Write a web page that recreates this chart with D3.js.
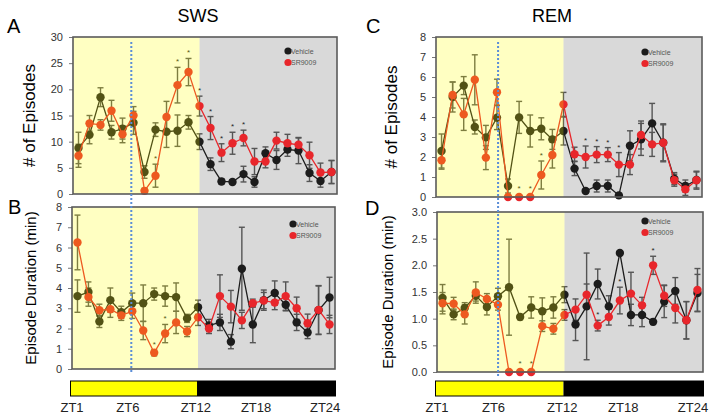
<!DOCTYPE html>
<html>
<head>
<meta charset="utf-8">
<script src="https://cdn.jsdelivr.net/npm/d3@7"></script>
<style>
body{margin:0;background:#fff}
text{font-family:Arial,"Liberation Sans",sans-serif}
</style>
</head>
<body>
<div id="chart"></div>
<script>
// hourly values, ZT1..ZT24
var hours = d3.range(1,25)

var swsCountVeh = [8.8,11.3,18.5,11.8,12.5,13.6,4.2,12.3,11.9,12.1,13.7,10.0,5.7,2.4,2.3,3.8,2.3,7.8,6.5,8.5,8.3,4.0,2.5,4.2]
var swsCountVehErr = [3.0,1.7,1.8,1.3,2.0,2.2,1.2,1.3,3.0,3.0,1.3,1.5,1.2,0.5,0.4,1.5,1.0,1.2,1.8,1.3,2.5,1.6,1.2,2.2]
var swsCountSR = [7.3,13.5,13.2,15.9,11.4,15.0,0.6,3.5,14.7,20.8,23.3,16.8,12.6,7.9,9.7,10.7,6.2,6.2,10.2,9.7,9.4,7.4,4.1,4.2]
var swsCountSRErr = [2.2,1.5,1.0,2.0,1.6,1.7,0.5,2.2,3.0,3.4,2.6,1.9,2.2,1.7,2.1,1.5,2.5,1.2,1.6,1.7,1.3,2.5,1.8,2.2]
var swsCountStars = [7,9,10,11,12,13,14,15]

var swsDurVeh = [3.6,3.8,2.35,3.4,2.8,3.25,3.25,3.7,3.6,3.55,2.5,3.05,2.15,2.3,1.35,4.95,2.2,3.4,3.75,3.17,2.3,1.8,2.9,3.53]
var swsDurVehErr = [0.8,0.5,0.3,0.6,0.3,0.5,0.9,0.3,0.5,0.7,0.2,0.35,0.3,0.4,0.35,2.05,0.9,0.5,0.6,0.3,0.4,0.3,1.2,1.0]
var swsDurSR = [6.25,3.55,2.9,2.95,2.65,2.85,1.9,0.8,1.75,2.3,1.85,2.55,2.0,3.6,3.08,2.4,3.25,3.38,3.28,3.6,3.0,2.26,2.92,2.2]
var swsDurSRErr = [1.35,0.45,0.3,0.4,0.25,0.35,0.45,0.15,0.45,0.55,0.25,0.4,0.25,1.05,0.8,0.4,0.2,0.4,0.35,0.7,0.55,0.45,1.2,0.45]
var swsDurStars = [7,8]

var remCountVeh = [2.3,5.0,5.57,3.5,2.98,3.97,0.55,3.98,3.3,3.41,2.88,3.3,1.42,0.3,0.55,0.55,0.08,2.56,2.88,3.68,2.71,0.92,0.55,0.85]
var remCountVehErr = [0.85,0.75,0.45,0.35,0.6,0.6,0.35,0.8,0.8,0.55,0.5,0.7,0.35,0.1,0.3,0.3,0.1,0.75,0.8,1.0,0.95,0.3,0.3,0.4]
var remCountSR = [1.84,5.1,4.13,5.86,1.97,5.24,0,0,0,1.1,2.1,4.63,2.14,2.0,2.12,2.12,1.62,1.62,3.1,2.63,2.71,0.84,0.38,0.84]
var remCountSRErr = [0.45,0.65,0.8,1.25,0.6,0.65,0,0,0,0.7,0.65,0.6,0.35,0.55,0.4,0.35,0.6,0.5,0.7,0.6,0.9,0.3,0.3,0.45]
var remCountStars = [7,8,9,13,14,15,16]

var remDurVeh = [1.39,1.08,1.2,1.43,1.22,1.42,1.59,1.03,1.21,1.14,1.21,1.45,0.89,1.23,1.65,1.23,2.23,1.07,1.07,0.94,1.32,1.52,0.97,1.48]
var remDurVehErr = [0.25,0.1,0.1,0.1,0.15,0.15,0.9,0.05,0.2,0.25,0.2,0.15,0.3,1.0,0.28,0.2,0,0.2,0.22,0.05,0.3,0.25,0.35,0.35]
var remDurSR = [1.29,1.28,1.08,1.49,1.37,1.26,0,0,0,0.86,0.81,1.07,1.17,1.45,0.87,1.03,1.34,1.47,1.25,2.0,1.43,1.2,0.97,1.54]
var remDurSRErr = [0.2,0.12,0.18,0.2,0.1,0.1,0,0,0,0.1,0.1,0.1,0.2,0.2,0.1,0.15,0.25,0.4,0.15,0.17,0.2,0.28,0.35,0.4]
var remDurStars = [7,8,14,16,19]

var ztLabels = ["ZT1","ZT6","ZT12","ZT18","ZT24"]
var ztPos = [-0.5,4.6,10.8,16.3,22.6]
var seriesNames = ["Vehicle","SR9009"]

var lightEnd = 11      // index where the light period ends
var w = 714, h = 418

var svg = d3.select("#chart").append("svg").attr("width",w).attr("height",h)

var panels = [
	{letter:"A",lx:7,ly:33,x0:73,x1:337,y0:37,y1:194,max:30,step:5,fmt:"d",ylab:"# of Episodes",ylx:35,yfs:17,
		veh:swsCountVeh,vehErr:swsCountVehErr,sr:swsCountSR,srErr:swsCountSRErr,stars:swsCountStars,blue:4.8,legX:288,legY:51},
	{letter:"B",lx:8,ly:214,x0:72,x1:335,y0:207,y1:369,max:8,step:1,fmt:"d",ylab:"Episode Duration (min)",ylx:36,yfs:15,
		veh:swsDurVeh,vehErr:swsDurVehErr,sr:swsDurSR,srErr:swsDurSRErr,stars:swsDurStars,blue:4.95,legX:293,legY:224},
	{letter:"C",lx:366,ly:33,x0:436,x1:702,y0:37,y1:197,max:8,step:1,fmt:"d",ylab:"# of Episodes",ylx:397,yfs:17,
		veh:remCountVeh,vehErr:remCountVehErr,sr:remCountSR,srErr:remCountSRErr,stars:remCountStars,blue:5.1,legX:645,legY:52},
	{letter:"D",lx:365,ly:215,x0:437,x1:703,y0:212,y1:372,max:3,step:0.5,fmt:".1f",ylab:"Episode Duration (min)",ylx:393,yfs:15,
		veh:remDurVeh,vehErr:remDurVehErr,sr:remDurSR,srErr:remDurSRErr,stars:remDurStars,blue:5.1,legX:645,legY:221}
]

panels.forEach(drawPanel)

// titles
svg.append("text").attr("x",198).attr("y",22).attr("text-anchor","middle").style("font-size","18px").text("SWS")
svg.append("text").attr("x",552).attr("y",22).attr("text-anchor","middle").style("font-size","18px").text("REM")

// blue dotted ZT6 lines running through both panels
drawBlue(panels[0],panels[1])
drawBlue(panels[2],panels[3])

// light/dark bars
drawBar(panels[1],381)
drawBar(panels[3],381)

function xScale(p){
	return d3.scaleLinear().domain([-0.5,23.5]).range([p.x0,p.x1])
}

function drawPanel(p){
	var x = xScale(p)
	var y = d3.scaleLinear().domain([0,p.max]).range([p.y1,p.y0])
	var g = svg.append("g")
	var xl = x(lightEnd)

	g.append("rect").attr("x",p.x0).attr("y",p.y0).attr("width",xl-p.x0).attr("height",p.y1-p.y0).attr("fill","#fff")
	g.append("rect").attr("x",xl).attr("y",p.y0).attr("width",p.x1-xl).attr("height",p.y1-p.y0).attr("fill","#d9d9d9")

	var ticks = d3.range(0,p.max+p.step/2,p.step)
	var axis = d3.axisLeft(y).tickValues(ticks).tickFormat(d3.format(p.fmt)).tickSize(4).tickPadding(6)
	var ax = g.append("g").attr("transform","translate("+p.x0+",0)").call(axis)
	ax.select(".domain").remove()
	ax.selectAll("line").attr("stroke","#777")
	ax.selectAll("text").style("font-size","11px").attr("fill","#333")

	var series = [
		{vals:p.veh,err:p.vehErr,color:"#1c1c1c"},
		{vals:p.sr,err:p.srErr,color:"#e8262b"}
	]

	series.forEach(function(s){
		g.selectAll(null).data(s.vals).enter().append("g").each(function(d,i){
			var e = d3.select(this)
			var cx = x(i), top = y(d+s.err[i]), bot = y(Math.max(0,d-s.err[i]))
			if(s.err[i]>0){
				e.append("line").attr("x1",cx).attr("x2",cx).attr("y1",top).attr("y2",bot)
				e.append("line").attr("x1",cx-3).attr("x2",cx+3).attr("y1",top).attr("y2",top)
				e.append("line").attr("x1",cx-3).attr("x2",cx+3).attr("y1",bot).attr("y2",bot)
				e.selectAll("line").attr("stroke","#555").attr("stroke-width",1.4)
			}
		})
	})

	series.forEach(function(s){
		var line = d3.line().x(function(d,i){return x(i)}).y(function(d){return y(d)})
		g.append("path").datum(s.vals).attr("d",line).attr("fill","none").attr("stroke",s.color).attr("stroke-width",1.3)
		g.selectAll(null).data(s.vals).enter().append("circle")
			.attr("cx",function(d,i){return x(i)})
			.attr("cy",function(d){return y(d)})
			.attr("r",4.2)
			.attr("fill",s.color)
	})

	// significance stars over SR9009
	g.selectAll(null).data(p.stars).enter().append("text")
		.attr("x",function(i){return x(i)})
		.attr("y",function(i){return y(p.sr[i]+p.srErr[i])-(p.srErr[i]>0?3:6)})
		.attr("text-anchor","middle")
		.style("font-size","8px")
		.attr("fill","#222")
		.text("*")

	// yellow wash over the light period
	g.append("rect").attr("x",p.x0).attr("y",p.y0).attr("width",xl-p.x0).attr("height",p.y1-p.y0)
		.attr("fill","#ffff00").attr("opacity",0.24)

	g.append("rect").attr("x",p.x0).attr("y",p.y0).attr("width",p.x1-p.x0).attr("height",p.y1-p.y0)
		.attr("fill","none").attr("stroke","#5a5a5a").attr("stroke-width",1.6)

	// legend
	seriesNames.forEach(function(n,k){
		g.append("circle").attr("cx",p.legX).attr("cy",p.legY+k*11.5).attr("r",3.6).attr("fill",series[k].color)
		g.append("text").attr("x",p.legX+3).attr("y",p.legY+k*11.5+2.5).style("font-size","7px").attr("fill","#555").text(n)
	})

	g.append("text").attr("x",p.lx).attr("y",p.ly).style("font-size","20px").text(p.letter)
	g.append("text").attr("transform","translate("+p.ylx+","+((p.y0+p.y1)/2)+") rotate(-90)")
		.attr("text-anchor","middle").style("font-size",p.yfs+"px").text(p.ylab)
}

function drawBlue(pt,pb){
	var xt = xScale(pt)(pt.blue)
	svg.append("line").attr("x1",xt).attr("x2",xt).attr("y1",pt.y0+5).attr("y2",pb.y1+4)
		.attr("stroke","#5b8ed8").attr("stroke-width",2).attr("stroke-dasharray","2,2")
}

function drawBar(p,top){
	var x = xScale(p)
	var x0 = p.x0-1.5, x1 = p.x1+0.5, xm = x(lightEnd)-1
	svg.append("rect").attr("x",x0).attr("y",top).attr("width",xm-x0).attr("height",15).attr("fill","#ffff00")
	svg.append("rect").attr("x",xm).attr("y",top).attr("width",x1-xm).attr("height",15).attr("fill","#000")
	svg.append("rect").attr("x",x0).attr("y",top).attr("width",x1-x0).attr("height",15).attr("fill","none").attr("stroke","#000").attr("stroke-width",1)
	svg.selectAll(null).data(ztLabels).enter().append("text")
		.attr("x",function(d,i){return x(ztPos[i])})
		.attr("y",412)
		.attr("text-anchor","middle")
		.style("font-size","13px")
		.attr("fill","#222")
		.text(function(d){return d})
}
</script>
</body>
</html>
